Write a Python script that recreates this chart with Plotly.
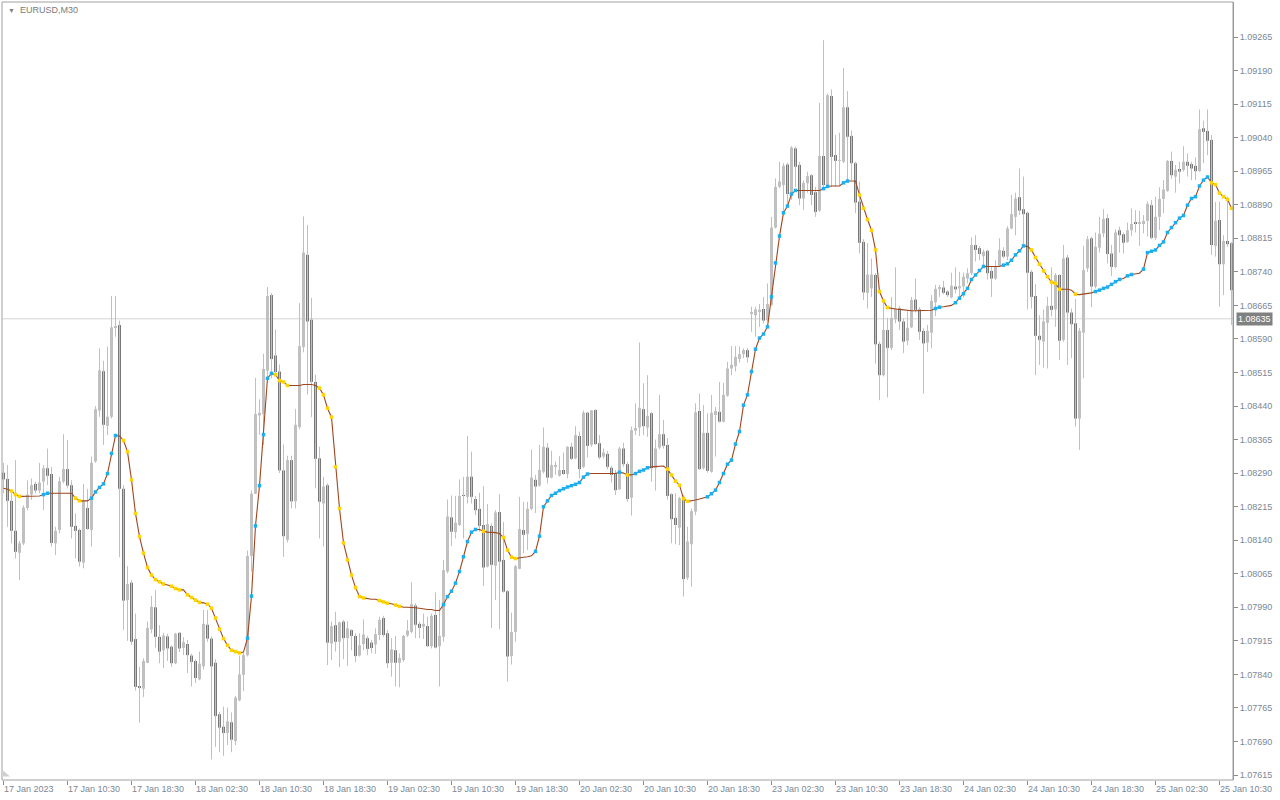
import plotly.graph_objects as go

# ---------------- data (EURUSD M30) ----------------
open_ = [
1.08291,1.08277,1.08228,1.08161,1.08112,1.08133,1.08212,1.08242,1.08266,1.08251,
1.08271,1.08301,1.08288,1.08133,1.08163,1.08271,1.08299,1.08263,1.08172,1.08163,
1.08090,1.08212,1.08163,1.08316,1.08430,1.08518,1.08396,1.08416,1.08615,1.08621,
1.08255,1.08006,1.08045,1.07919,1.07814,1.07808,1.07866,1.07941,1.07990,1.07924,
1.07894,1.07925,1.07902,1.07865,1.07933,1.07899,1.07908,1.07882,1.07870,1.07829,
1.07858,1.07951,1.07920,1.07866,1.07751,1.07723,1.07709,1.07733,1.07691,1.07782,
1.07839,1.07883,1.08105,1.08244,1.08419,1.08422,1.08519,1.08688,1.08553,1.08517,
1.08296,1.08141,1.08319,1.08227,1.08393,1.08572,1.08778,1.08633,1.08494,1.08323,
1.08222,1.08263,1.07909,1.07950,1.07913,1.07958,1.07921,1.07939,1.07926,1.07882,
1.07908,1.07921,1.07911,1.07907,1.07928,1.07966,1.07932,1.07866,1.07894,1.07866,
1.07872,1.07927,1.07935,1.07994,1.07953,1.07947,1.07948,1.07903,1.07973,1.07903,
1.07924,1.08070,1.08191,1.08158,1.08174,1.08241,1.08237,1.08282,1.08232,1.08210,
1.08174,1.08081,1.08172,1.08083,1.08203,1.08096,1.08026,1.07881,1.07935,1.08076,
1.08163,1.08154,1.08210,1.08275,1.08262,1.08293,1.08347,1.08280,1.08304,1.08284,
1.08297,1.08288,1.08349,1.08323,1.08373,1.08304,1.08425,1.08353,1.08431,1.08357,
1.08327,1.08333,1.08302,1.08290,1.08254,1.08345,1.08310,1.08235,1.08385,1.08392,
1.08433,1.08392,1.08424,1.08301,1.08347,1.08377,1.08353,1.08243,1.08190,1.08168,
1.08237,1.08056,1.08131,1.08204,1.08429,1.08301,1.08380,1.08293,1.08420,1.08427,
1.08405,1.08463,1.08524,1.08529,1.08545,1.08556,1.08565,1.08646,1.08643,1.08651,
1.08657,1.08632,1.08666,1.08839,1.08930,1.08934,1.08980,1.08912,1.09016,1.08979,
1.08904,1.08938,1.08956,1.08918,1.08877,1.08999,1.08933,1.09133,1.09001,1.08988,
1.08986,1.09108,1.09044,1.08983,1.08897,1.08807,1.08693,1.08703,1.08733,1.08579,
1.08509,1.08610,1.08570,1.08634,1.08658,1.08629,1.08586,1.08616,1.08678,1.08656,
1.08608,1.08582,1.08604,1.08672,1.08702,1.08705,1.08696,1.08683,1.08707,1.08703,
1.08707,1.08725,1.08737,1.08800,1.08793,1.08775,1.08787,1.08742,1.08725,1.08753,
1.08787,1.08774,1.08837,1.08863,1.08907,1.08880,1.08872,1.08740,1.08686,1.08597,
1.08584,1.08626,1.08664,1.08656,1.08733,1.08588,1.08772,1.08649,1.08625,1.08412,
1.08604,1.08748,1.08815,1.08707,1.08794,1.08826,1.08860,1.08781,1.08751,1.08833,
1.08824,1.08807,1.08833,1.08851,1.08848,1.08847,1.08854,1.08889,1.08816,1.08863,
1.08903,1.08921,1.08988,1.08953,1.08970,1.08968,1.08986,1.08981,1.08977,1.08965,
1.09061,1.09055,1.09035,1.08798,1.08856,1.08757,1.08809,1.08804]

high = [
1.08313,1.08308,1.08245,1.08319,1.08138,1.08218,1.08274,1.08278,1.08271,1.08313,
1.08308,1.08345,1.08304,1.08170,1.08282,1.08377,1.08364,1.08274,1.08200,1.08166,
1.08266,1.08254,1.08327,1.08440,1.08569,1.08541,1.08573,1.08686,1.08686,1.08631,
1.08263,1.08082,1.08051,1.07976,1.07857,1.07876,1.07958,1.08015,1.08029,1.07950,
1.07933,1.07931,1.07905,1.07933,1.07934,1.07923,1.07917,1.07886,1.07874,1.07891,
1.07984,1.07984,1.07925,1.07874,1.07756,1.07768,1.07766,1.07755,1.07792,1.07882,
1.07888,1.08117,1.08251,1.08503,1.08455,1.08557,1.08706,1.08692,1.08611,1.08533,
1.08354,1.08329,1.08329,1.08433,1.08670,1.08864,1.08845,1.08682,1.08510,1.08349,
1.08282,1.08267,1.07958,1.07980,1.07958,1.07962,1.07959,1.07941,1.07932,1.07932,
1.07963,1.07926,1.07917,1.07943,1.07969,1.07971,1.07939,1.07921,1.07926,1.07887,
1.07928,1.07962,1.08046,1.07999,1.07958,1.07976,1.07969,1.07976,1.08023,1.08006,
1.08096,1.08231,1.08240,1.08239,1.08276,1.08282,1.08373,1.08338,1.08239,1.08246,
1.08261,1.08221,1.08178,1.08207,1.08243,1.08181,1.08029,1.07978,1.08085,1.08237,
1.08226,1.08226,1.08343,1.08286,1.08353,1.08392,1.08357,1.08340,1.08316,1.08328,
1.08336,1.08350,1.08358,1.08395,1.08383,1.08430,1.08427,1.08431,1.08433,1.08375,
1.08345,1.08340,1.08306,1.08297,1.08349,1.08358,1.08315,1.08394,1.08446,1.08582,
1.08491,1.08509,1.08427,1.08365,1.08465,1.08409,1.08368,1.08245,1.08245,1.08237,
1.08241,1.08170,1.08211,1.08446,1.08468,1.08442,1.08424,1.08465,1.08438,1.08494,
1.08492,1.08539,1.08574,1.08574,1.08573,1.08569,1.08570,1.08662,1.08662,1.08668,
1.08684,1.08714,1.08863,1.08949,1.08986,1.08983,1.08984,1.09021,1.09020,1.08986,
1.08944,1.08964,1.08959,1.08930,1.09118,1.09258,1.09139,1.09148,1.09046,1.09051,
1.09196,1.09144,1.09056,1.08986,1.08942,1.08813,1.08804,1.08770,1.08737,1.08584,
1.08673,1.08637,1.08684,1.08750,1.08664,1.08636,1.08655,1.08684,1.08725,1.08661,
1.08614,1.08621,1.08688,1.08711,1.08711,1.08720,1.08699,1.08738,1.08750,1.08740,
1.08738,1.08748,1.08817,1.08822,1.08798,1.08790,1.08790,1.08753,1.08766,1.08815,
1.08795,1.08842,1.08912,1.08917,1.08971,1.08953,1.08875,1.08744,1.08713,1.08643,
1.08656,1.08684,1.08750,1.08737,1.08735,1.08800,1.08778,1.08658,1.08679,1.08614,
1.08798,1.08820,1.08819,1.08828,1.08863,1.08880,1.08869,1.08800,1.08835,1.08841,
1.08828,1.08850,1.08882,1.08878,1.08876,1.08867,1.08897,1.08901,1.08908,1.08929,
1.08945,1.08990,1.09009,1.08979,1.08986,1.09021,1.09005,1.08986,1.08996,1.09103,
1.09078,1.09103,1.09046,1.08896,1.08897,1.08822,1.08908,1.08807]

low = [
1.08245,1.08170,1.08133,1.08099,1.08051,1.08129,1.08207,1.08230,1.08245,1.08245,
1.08207,1.08263,1.08126,1.08107,1.08155,1.08267,1.08256,1.08144,1.08099,1.08081,
1.08077,1.08163,1.08126,1.08313,1.08416,1.08353,1.08375,1.08412,1.08595,1.08102,
1.07939,1.07915,1.07906,1.07804,1.07732,1.07789,1.07865,1.07932,1.07900,1.07865,
1.07854,1.07870,1.07857,1.07863,1.07890,1.07883,1.07843,1.07813,1.07821,1.07827,
1.07851,1.07913,1.07650,1.07678,1.07666,1.07658,1.07682,1.07666,1.07682,1.07780,
1.07803,1.07880,1.08070,1.08243,1.08376,1.08353,1.08502,1.08502,1.08510,1.08290,
1.08103,1.08135,1.08211,1.08211,1.08388,1.08560,1.08466,1.08415,1.08256,1.08144,
1.08126,1.07861,1.07872,1.07891,1.07856,1.07874,1.07859,1.07894,1.07867,1.07880,
1.07894,1.07883,1.07887,1.07886,1.07917,1.07924,1.07854,1.07835,1.07813,1.07811,
1.07868,1.07924,1.07932,1.07921,1.07921,1.07919,1.07902,1.07898,1.07898,1.07813,
1.07913,1.08066,1.08127,1.08144,1.08172,1.08144,1.08222,1.08222,1.08196,1.08159,
1.08038,1.08079,1.07944,1.08006,1.07941,1.08023,1.07824,1.07862,1.07913,1.08075,
1.08111,1.08118,1.08207,1.08201,1.08260,1.08289,1.08267,1.08278,1.08286,1.08282,
1.08286,1.08278,1.08319,1.08321,1.08278,1.08301,1.08325,1.08349,1.08353,1.08321,
1.08323,1.08298,1.08269,1.08241,1.08252,1.08304,1.08226,1.08195,1.08375,1.08373,
1.08375,1.08371,1.08271,1.08251,1.08343,1.08345,1.08231,1.08133,1.08131,1.08129,
1.08014,1.08051,1.08036,1.08196,1.08297,1.08298,1.08291,1.08291,1.08327,1.08403,
1.08403,1.08461,1.08509,1.08517,1.08537,1.08547,1.08537,1.08606,1.08595,1.08617,
1.08625,1.08629,1.08664,1.08837,1.08927,1.08874,1.08889,1.08901,1.08930,1.08889,
1.08878,1.08917,1.08889,1.08863,1.08874,1.08927,1.08930,1.08930,1.08930,1.08934,
1.08983,1.08942,1.08945,1.08871,1.08781,1.08677,1.08658,1.08684,1.08535,1.08453,
1.08506,1.08459,1.08565,1.08625,1.08610,1.08558,1.08576,1.08614,1.08649,1.08588,
1.08468,1.08561,1.08569,1.08641,1.08684,1.08690,1.08684,1.08681,1.08692,1.08681,
1.08683,1.08714,1.08733,1.08763,1.08766,1.08755,1.08723,1.08684,1.08722,1.08752,
1.08770,1.08766,1.08835,1.08822,1.08867,1.08798,1.08656,1.08658,1.08509,1.08532,
1.08526,1.08524,1.08640,1.08617,1.08543,1.08584,1.08532,1.08547,1.08394,1.08342,
1.08502,1.08740,1.08661,1.08703,1.08783,1.08817,1.08759,1.08731,1.08748,1.08783,
1.08781,1.08805,1.08820,1.08828,1.08798,1.08826,1.08819,1.08813,1.08811,1.08833,
1.08871,1.08919,1.08948,1.08917,1.08938,1.08964,1.08953,1.08945,1.08945,1.08964,
1.08983,1.09001,1.08778,1.08774,1.08662,1.08688,1.08796,1.08621]

close = [
1.08276,1.08228,1.08161,1.08114,1.08133,1.08213,1.08242,1.08263,1.08251,1.08269,
1.08301,1.08284,1.08134,1.08161,1.08272,1.08299,1.08262,1.08170,1.08161,1.08092,
1.08228,1.08165,1.08313,1.08433,1.08520,1.08398,1.08416,1.08616,1.08619,1.08255,
1.08005,1.08042,1.07913,1.07812,1.07810,1.07870,1.07944,1.07991,1.07924,1.07891,
1.07927,1.07898,1.07865,1.07931,1.07898,1.07912,1.07883,1.07868,1.07832,1.07864,
1.07953,1.07920,1.07858,1.07747,1.07721,1.07709,1.07735,1.07694,1.07788,1.07840,
1.07883,1.08105,1.08244,1.08422,1.08425,1.08523,1.08686,1.08545,1.08516,1.08296,
1.08149,1.08319,1.08227,1.08398,1.08574,1.08783,1.08629,1.08494,1.08322,1.08226,
1.08260,1.07911,1.07948,1.07913,1.07956,1.07921,1.07943,1.07926,1.07881,1.07905,
1.07929,1.07897,1.07899,1.07930,1.07962,1.07928,1.07865,1.07896,1.07866,1.07877,
1.07926,1.07938,1.07997,1.07951,1.07944,1.07953,1.07903,1.07971,1.07900,1.07926,
1.08073,1.08193,1.08159,1.08179,1.08239,1.08239,1.08282,1.08237,1.08207,1.08172,
1.08079,1.08176,1.08085,1.08202,1.08092,1.08025,1.07880,1.07935,1.08082,1.08165,
1.08152,1.08210,1.08280,1.08260,1.08297,1.08349,1.08280,1.08308,1.08307,1.08297,
1.08288,1.08349,1.08322,1.08375,1.08299,1.08425,1.08351,1.08430,1.08355,1.08325,
1.08336,1.08304,1.08286,1.08252,1.08345,1.08310,1.08232,1.08386,1.08391,1.08436,
1.08395,1.08418,1.08301,1.08345,1.08377,1.08351,1.08239,1.08187,1.08174,1.08234,
1.08053,1.08137,1.08205,1.08426,1.08299,1.08380,1.08295,1.08425,1.08429,1.08405,
1.08465,1.08524,1.08532,1.08550,1.08556,1.08565,1.08549,1.08650,1.08656,1.08655,
1.08631,1.08668,1.08839,1.08930,1.08942,1.08977,1.08914,1.09018,1.08975,1.08904,
1.08939,1.08954,1.08912,1.08874,1.08999,1.08934,1.09135,1.08997,1.08988,1.08990,
1.09108,1.09042,1.08983,1.08895,1.08805,1.08694,1.08734,1.08734,1.08578,1.08509,
1.08610,1.08570,1.08637,1.08658,1.08629,1.08584,1.08615,1.08677,1.08655,1.08606,
1.08580,1.08608,1.08675,1.08702,1.08705,1.08693,1.08688,1.08709,1.08701,1.08708,
1.08729,1.08737,1.08800,1.08789,1.08780,1.08785,1.08737,1.08725,1.08753,1.08789,
1.08774,1.08837,1.08869,1.08904,1.08877,1.08869,1.08738,1.08684,1.08597,1.08588,
1.08629,1.08664,1.08655,1.08733,1.08586,1.08770,1.08649,1.08623,1.08412,1.08608,
1.08744,1.08813,1.08707,1.08796,1.08825,1.08858,1.08780,1.08751,1.08828,1.08822,
1.08805,1.08833,1.08847,1.08847,1.08851,1.08854,1.08892,1.08816,1.08863,1.08903,
1.08924,1.08988,1.08956,1.08968,1.08964,1.08986,1.08977,1.08971,1.08965,1.09059,
1.09053,1.09033,1.08800,1.08854,1.08757,1.08809,1.08802,1.08699]

# smoothed trend line (indicator) value per bar
trend = [
1.08256,1.08254,1.08250,1.08242,1.08238,1.08238,1.08238,1.08238,1.08238,1.08239,
1.08242,1.08245,1.08245,1.08245,1.08245,1.08245,1.08245,1.08245,1.08234,1.08228,
1.08228,1.08228,1.08234,1.08248,1.08258,1.08266,1.08289,1.08334,1.08374,1.08373,
1.08363,1.08338,1.08275,1.08200,1.08148,1.08111,1.08079,1.08062,1.08052,1.08047,
1.08042,1.08040,1.08037,1.08032,1.08029,1.08029,1.08018,1.08012,1.08006,1.08001,
1.08000,1.07997,1.07988,1.07966,1.07941,1.07920,1.07905,1.07894,1.07891,1.07888,
1.07890,1.07921,1.08015,1.08172,1.08262,1.08376,1.08502,1.08513,1.08510,1.08497,
1.08494,1.08486,1.08486,1.08486,1.08486,1.08488,1.08488,1.08488,1.08486,1.08480,
1.08465,1.08435,1.08415,1.08304,1.08211,1.08134,1.08096,1.08062,1.08034,1.08014,
1.08011,1.08009,1.08008,1.08008,1.08005,1.08002,1.07999,1.07998,1.07995,1.07992,
1.07990,1.07990,1.07990,1.07989,1.07988,1.07986,1.07985,1.07985,1.07983,1.07983,
1.07996,1.08014,1.08026,1.08044,1.08070,1.08103,1.08137,1.08158,1.08164,1.08164,
1.08160,1.08158,1.08158,1.08157,1.08155,1.08146,1.08118,1.08102,1.08099,1.08101,
1.08102,1.08103,1.08105,1.08115,1.08149,1.08215,1.08228,1.08240,1.08245,1.08251,
1.08255,1.08259,1.08262,1.08265,1.08269,1.08281,1.08288,1.08289,1.08289,1.08289,
1.08289,1.08289,1.08289,1.08289,1.08292,1.08290,1.08286,1.08286,1.08289,1.08294,
1.08297,1.08302,1.08304,1.08305,1.08306,1.08306,1.08299,1.08286,1.08272,1.08263,
1.08233,1.08227,1.08228,1.08230,1.08232,1.08234,1.08237,1.08244,1.08252,1.08269,
1.08289,1.08310,1.08319,1.08355,1.08383,1.08442,1.08465,1.08517,1.08567,1.08592,
1.08601,1.08617,1.08684,1.08760,1.08820,1.08872,1.08887,1.08914,1.08922,1.08922,
1.08922,1.08922,1.08922,1.08922,1.08922,1.08926,1.08931,1.08932,1.08932,1.08932,
1.08939,1.08943,1.08943,1.08943,1.08912,1.08882,1.08857,1.08833,1.08789,1.08696,
1.08675,1.08660,1.08658,1.08657,1.08656,1.08655,1.08653,1.08653,1.08653,1.08653,
1.08653,1.08653,1.08654,1.08658,1.08661,1.08662,1.08663,1.08665,1.08671,1.08681,
1.08691,1.08703,1.08723,1.08733,1.08743,1.08752,1.08752,1.08752,1.08752,1.08752,
1.08755,1.08758,1.08766,1.08778,1.08787,1.08798,1.08797,1.08789,1.08772,1.08757,
1.08742,1.08729,1.08717,1.08714,1.08701,1.08701,1.08701,1.08699,1.08690,1.08689,
1.08690,1.08691,1.08693,1.08696,1.08699,1.08703,1.08706,1.08712,1.08718,1.08723,
1.08725,1.08731,1.08734,1.08736,1.08737,1.08746,1.08783,1.08786,1.08789,1.08799,
1.08807,1.08828,1.08839,1.08850,1.08860,1.08866,1.08889,1.08904,1.08908,1.08932,
1.08945,1.08952,1.08939,1.08935,1.08916,1.08908,1.08902,1.08882]

tick_bars = [0, 16, 32, 48, 64, 80, 96, 112, 128, 144, 160, 176, 192, 208,
             224, 240, 256, 272, 288, 304]
tick_labels = ["17 Jan 2023", "17 Jan 10:30", "17 Jan 18:30", "18 Jan 02:30",
               "18 Jan 10:30", "18 Jan 18:30", "19 Jan 02:30", "19 Jan 10:30",
               "19 Jan 18:30", "20 Jan 02:30", "20 Jan 10:30", "20 Jan 18:30",
               "23 Jan 02:30", "23 Jan 10:30", "23 Jan 18:30", "24 Jan 02:30",
               "24 Jan 10:30", "24 Jan 18:30", "25 Jan 02:30", "25 Jan 10:30"]
price_ticks = [1.07615, 1.07690, 1.07765, 1.07840, 1.07915, 1.07990, 1.08065,
               1.08140, 1.08215, 1.08290, 1.08365, 1.08440, 1.08515, 1.08590,
               1.08665, 1.08740, 1.08815, 1.08890, 1.08965, 1.09040, 1.09115,
               1.09190, 1.09265]
last_price = 1.08635
symbol_title = "EURUSD,M30"

# ---------------- styling ----------------
BULL = "#c0c0c0"
BEAR = "#787878"
WICK = "#c0c0c0"
LINE = "#a0461e"
UP_DOT = "#1eaef0"
DN_DOT = "#ffd200"
AXIS_TXT = "#7b8796"
FONT = "Liberation Sans, Arial, sans-serif"

n = len(open_)
xs = list(range(n))

fig = go.Figure()

# wicks
wx, wy = [], []
for i in xs:
    wx += [i, i, None]
    wy += [low[i], high[i], None]
fig.add_trace(go.Scatter(x=wx, y=wy, mode="lines",
                         line=dict(color=WICK, width=1), hoverinfo="skip"))

# bodies
MIN_H = 0.00002
for bull, col in ((True, BULL), (False, BEAR)):
    bx, bb, bh = [], [], []
    for i in xs:
        o, c = open_[i], close[i]
        if (c >= o) == bull:
            bx.append(i)
            bb.append(min(o, c))
            bh.append(max(abs(c - o), MIN_H))
    fig.add_trace(go.Bar(x=bx, y=bh, base=bb, width=0.75,
                         marker=dict(color=col, line=dict(width=0)),
                         hoverinfo="skip"))

# trend line
fig.add_trace(go.Scatter(x=xs, y=trend, mode="lines",
                         line=dict(color=LINE, width=1.1), hoverinfo="skip"))

# direction dots
ux, uy, dx, dy = [], [], [], []
for i in range(1, n):
    d = round((trend[i] - trend[i - 1]) * 1e5)
    if d >= 3:
        ux.append(i); uy.append(trend[i])
    elif d <= -3:
        dx.append(i); dy.append(trend[i])
fig.add_trace(go.Scatter(x=ux, y=uy, mode="markers",
                         marker=dict(color=UP_DOT, size=3.5, symbol="square",
                                     line=dict(width=0)),
                         hoverinfo="skip"))
fig.add_trace(go.Scatter(x=dx, y=dy, mode="markers",
                         marker=dict(color=DN_DOT, size=3.5, symbol="square",
                                     line=dict(width=0)),
                         hoverinfo="skip"))

annotations = []
for b, t in zip(tick_bars, tick_labels):
    annotations.append(dict(x=b, y=0, xref="x", yref="paper", text=t,
                            showarrow=False, xanchor="left", yanchor="top",
                            xshift=-2, yshift=-2,
                            font=dict(family=FONT, size=9, color=AXIS_TXT)))
annotations.append(dict(x=1, y=last_price, xref="paper", yref="y",
                        text=f"{last_price:.5f}", showarrow=False,
                        xanchor="left", yanchor="middle", xshift=3,
                        bgcolor="#808080", borderpad=1,
                        font=dict(family=FONT, size=9, color="white")))
annotations.append(dict(x=0.003, y=0.9895, xref="paper", yref="paper",
                        text="\u25BC", showarrow=False, xanchor="left",
                        yanchor="middle",
                        font=dict(family=FONT, size=7, color="#808080")))
annotations.append(dict(x=0.013, y=0.9895, xref="paper", yref="paper",
                        text=symbol_title, showarrow=False, xanchor="left",
                        yanchor="middle",
                        font=dict(family=FONT, size=9, color="#7a7a7a")))

shapes = [
    dict(type="line", xref="paper", yref="y", x0=0, x1=1,
         y0=last_price, y1=last_price, layer="below",
         line=dict(color="#d4d4d4", width=1)),
    dict(type="rect", xref="paper", yref="paper", x0=0, x1=1, y0=0, y1=1,
         line=dict(color="#a0a0a0", width=1), layer="above"),
    dict(type="path", xref="paper", yref="paper",
         path="M 0,0.0135 L 0,0.0045 L 0.0065,0.0045 Z",
         fillcolor="#d0d0d0", line=dict(width=0)),
]

fig.update_layout(
    width=1280, height=800,
    margin=dict(l=2, r=47, t=2, b=20),
    paper_bgcolor="white", plot_bgcolor="white",
    showlegend=False, barmode="overlay", hovermode=False,
    xaxis=dict(range=[-0.375, 307.375], showgrid=False, zeroline=False,
               showticklabels=False, ticks="outside", ticklen=4,
               tickcolor="#8c8c8c", tickvals=tick_bars, showline=False,
               fixedrange=True),
    yaxis=dict(range=[1.076039, 1.093433], side="right", showgrid=False,
               zeroline=False, tickvals=price_ticks, tickformat=".5f",
               ticks="outside", ticklen=4, tickcolor="#8c8c8c",
               showline=True, linecolor="#8c8c8c", linewidth=1,
               tickfont=dict(family=FONT, size=9, color=AXIS_TXT),
               fixedrange=True),
    annotations=annotations, shapes=shapes,
)

fig.write_html("out.html", config={"displayModeBar": False})
with open("out.html", "r", encoding="utf-8") as f:
    html = f.read()
html = html.replace("<head>", "<head><style>html,body{margin:0;padding:0;overflow:hidden;}</style>", 1)
with open("out.html", "w", encoding="utf-8") as f:
    f.write(html)
